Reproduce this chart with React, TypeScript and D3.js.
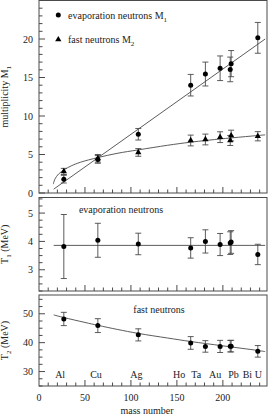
import React from 'react';
import * as d3 from 'd3';

// mass numbers of the targets
const elements = ["Al", "Cu", "Ag", "Ho", "Ta", "Au", "Pb", "Bi", "U"];
const massNumbers = [27, 64, 108, 165, 181, 197, 208, 209, 238];
// where the element names are written (spread out, in mass units)
const labelPositions = [23, 62, 106, 152.5, 171, 191.6, 211.5, 226.7, 238.7];

// multiplicities
const m1 = [1.8, 4.36, 7.63, 14.0, 15.45, 16.2, 16.05, 16.8, 20.15];
const m1Err = [0.5, 0.5, 0.75, 1.4, 1.55, 1.6, 1.6, 1.7, 2.0];
const m2 = [2.8, 4.5, 5.27, 6.82, 6.95, 7.25, 6.82, 7.46, 7.37];
const m2Err = [0.4, 0.5, 0.5, 0.7, 0.7, 0.7, 0.65, 0.7, 0.6];

// temperatures
const t1 = [3.82, 4.04, 3.91, 3.77, 4.0, 3.89, 3.94, 3.98, 3.54];
const t1Err = [1.13, 0.6, 0.38, 0.36, 0.41, 0.39, 0.4, 0.4, 0.36];
const t2 = [48.2, 45.9, 42.7, 39.9, 38.7, 38.7, 38.8, 38.8, 37.0];
const t2Err = [2.3, 2.4, 2.1, 2.2, 2.0, 2.1, 2.0, 2.0, 2.0];

// fit curves
const m1Fit: [number, number][] = [[16, 0.5], [246, 20.0]];
const m2Fit: [number, number][] = [
  [15.6, 1.15], [16.2, 1.45], [17, 1.72], [19, 2.13], [22, 2.54], [27, 3.0],
  [35, 3.52], [45, 3.99], [64, 4.6], [85, 5.15], [108, 5.6], [140, 6.2],
  [165, 6.6], [200, 7.05], [246, 7.55],
];
const t1Fit: [number, number][] = [[16, 3.86], [246, 3.86]];
const t2Fit: [number, number][] = [
  [16, 49.6], [27, 48.7], [50, 47.0], [64, 46.0], [85, 44.6], [108, 43.2],
  [140, 41.6], [165, 40.4], [200, 38.9], [238, 37.3], [246, 36.9],
];

const xTicks = [0, 50, 100, 150, 200];
const m1Ticks = [0, 5, 10, 15, 20];
const t1Ticks = [3, 4, 5];
const t2Ticks = [30, 40, 50];

const FONT = "'Liberation Serif', 'DejaVu Serif', serif";
const INK = "#222";
const LINE = "#4a4a4a";

const x = d3.scaleLinear().domain([0, 248]).range([39, 267]);
const y1 = d3.scaleLinear().domain([0, 25]).range([193, 0.5]);
const y2 = d3.scaleLinear().domain([2.25, 5.55]).range([291, 197.5]);
const y3 = d3.scaleLinear().domain([25, 56.5]).range([386, 295]);

function Frame({ y, minorStep, major }: { y: d3.ScaleLinear<number, number>; minorStep: number; major: number[] }) {
  const [y0, yTop] = y.range();
  const [d0, d1] = y.domain();
  const minorY = d3.range(Math.ceil(d0 / minorStep) * minorStep, d1 + 1e-9, minorStep);
  const minorX = d3.range(10, 248, 10);
  const x0 = x.range()[0];
  const x1 = x.range()[1];
  return (
    <g>
      <rect x={x0} y={yTop} width={x1 - x0} height={y0 - yTop} fill="none" stroke={LINE} strokeWidth={1} />
      {minorX.map((v) => (
        <line key={"bx" + v} x1={x(v)} x2={x(v)} y1={y0} y2={y0 - (v % 50 === 0 ? 6 : 3.5)} stroke={LINE} />
      ))}
      {minorY.map((v) => {
        const isMajor = major.some((m) => Math.abs(m - v) < 1e-6);
        return <line key={"ly" + v} x1={x0} x2={x0 + (isMajor ? 6 : 3.5)} y1={y(v)} y2={y(v)} stroke={LINE} />;
      })}
      {major.map((v) => (
        <text key={"t" + v} x={x0 - 6} y={y(v) + 3.5} textAnchor="end" fontSize={10} fill={INK}>
          {v}
        </text>
      ))}
    </g>
  );
}

function ErrorBars({ y, values, errors }: { y: d3.ScaleLinear<number, number>; values: number[]; errors: number[] }) {
  return (
    <g stroke={LINE} strokeWidth={0.9}>
      {values.map((v, i) => {
        const cx = x(massNumbers[i]);
        const top = y(v + errors[i]);
        const bot = y(v - errors[i]);
        return (
          <g key={i}>
            <line x1={cx} x2={cx} y1={top} y2={bot} />
            <line x1={cx - 3} x2={cx + 3} y1={top} y2={top} />
            <line x1={cx - 3} x2={cx + 3} y1={bot} y2={bot} />
          </g>
        );
      })}
    </g>
  );
}

function Dots({ y, values, r = 2.5 }: { y: d3.ScaleLinear<number, number>; values: number[]; r?: number }) {
  return (
    <g fill="#000">
      {values.map((v, i) => (
        <circle key={i} cx={x(massNumbers[i])} cy={y(v)} r={r} />
      ))}
    </g>
  );
}

const triangle = d3.symbol(d3.symbolTriangle, 17)() as string;

function Triangles({ y, values }: { y: d3.ScaleLinear<number, number>; values: number[] }) {
  return (
    <g fill="#000">
      {values.map((v, i) => (
        <path key={i} d={triangle} transform={`translate(${x(massNumbers[i])},${y(v)})`} />
      ))}
    </g>
  );
}

function FitLine({ y, pts, curve = d3.curveLinear }: { y: d3.ScaleLinear<number, number>; pts: [number, number][]; curve?: d3.CurveFactory }) {
  const line = d3.line<[number, number]>().x((d) => x(d[0])).y((d) => y(d[1])).curve(curve);
  return <path d={line(pts) || ""} fill="none" stroke={LINE} strokeWidth={0.9} />;
}

export default function App() {
  return (
    <svg
      width={268}
      height={415}
      style={{ position: "absolute", left: 0, top: 0, background: "#fff" }}
      fontFamily={FONT}
    >
      {/* panel 1: multiplicities */}
      <Frame y={y1} minorStep={1} major={m1Ticks} />
      <FitLine y={y1} pts={m1Fit} />
      <FitLine y={y1} pts={m2Fit} curve={d3.curveCatmullRom} />
      <ErrorBars y={y1} values={m1} errors={m1Err} />
      <ErrorBars y={y1} values={m2} errors={m2Err} />
      <Dots y={y1} values={m1} />
      <Triangles y={y1} values={m2} />
      <circle cx={58.3} cy={15} r={2.5} fill="#000" />
      <text x={68} y={19} fontSize={10} fill={INK}>
        evaporation neutrons M<tspan dy={3} fontSize={7}>1</tspan>
      </text>
      <path d={triangle} transform="translate(58.3,39.5)" fill="#000" />
      <text x={68} y={43} fontSize={10} fill={INK}>
        fast neutrons M<tspan dy={3} fontSize={7}>2</tspan>
      </text>
      <text transform={`translate(8,${y1(12.5)}) rotate(-90)`} textAnchor="middle" fontSize={10} fill={INK}>
        multiplicity M<tspan dy={3} fontSize={7}>1</tspan>
      </text>

      {/* panel 2: T1 */}
      <Frame y={y2} minorStep={0.25} major={t1Ticks} />
      <FitLine y={y2} pts={t1Fit} />
      <ErrorBars y={y2} values={t1} errors={t1Err} />
      <Dots y={y2} values={t1} />
      <text x={121} y={213} textAnchor="middle" fontSize={10} fill={INK}>evaporation neutrons</text>
      <text transform={`translate(8,${(y2.range()[0] + y2.range()[1]) / 2}) rotate(-90)`} textAnchor="middle" fontSize={10} fill={INK}>
        T<tspan dy={3} fontSize={7}>1</tspan><tspan dy={-3}> (MeV)</tspan>
      </text>

      {/* panel 3: T2 */}
      <Frame y={y3} minorStep={2.5} major={t2Ticks} />
      <FitLine y={y3} pts={t2Fit} curve={d3.curveCatmullRom} />
      <ErrorBars y={y3} values={t2} errors={t2Err} />
      <Dots y={y3} values={t2} />
      <text x={159} y={313} textAnchor="middle" fontSize={10} fill={INK}>fast neutrons</text>
      <text transform={`translate(8,${(y3.range()[0] + y3.range()[1]) / 2}) rotate(-90)`} textAnchor="middle" fontSize={10} fill={INK}>
        T<tspan dy={3} fontSize={7}>2</tspan><tspan dy={-3}> (MeV)</tspan>
      </text>
      {elements.map((el, i) => (
        <text key={el} x={x(labelPositions[i])} y={377.5} textAnchor="middle" fontSize={10} fill={INK}>
          {el}
        </text>
      ))}

      {/* x axis labels */}
      {xTicks.map((v) => (
        <text key={v} x={x(v)} y={401} textAnchor="middle" fontSize={10} fill={INK}>
          {v}
        </text>
      ))}
      <text x={147} y={414} textAnchor="middle" fontSize={10} fill={INK}>mass number</text>
    </svg>
  );
}
